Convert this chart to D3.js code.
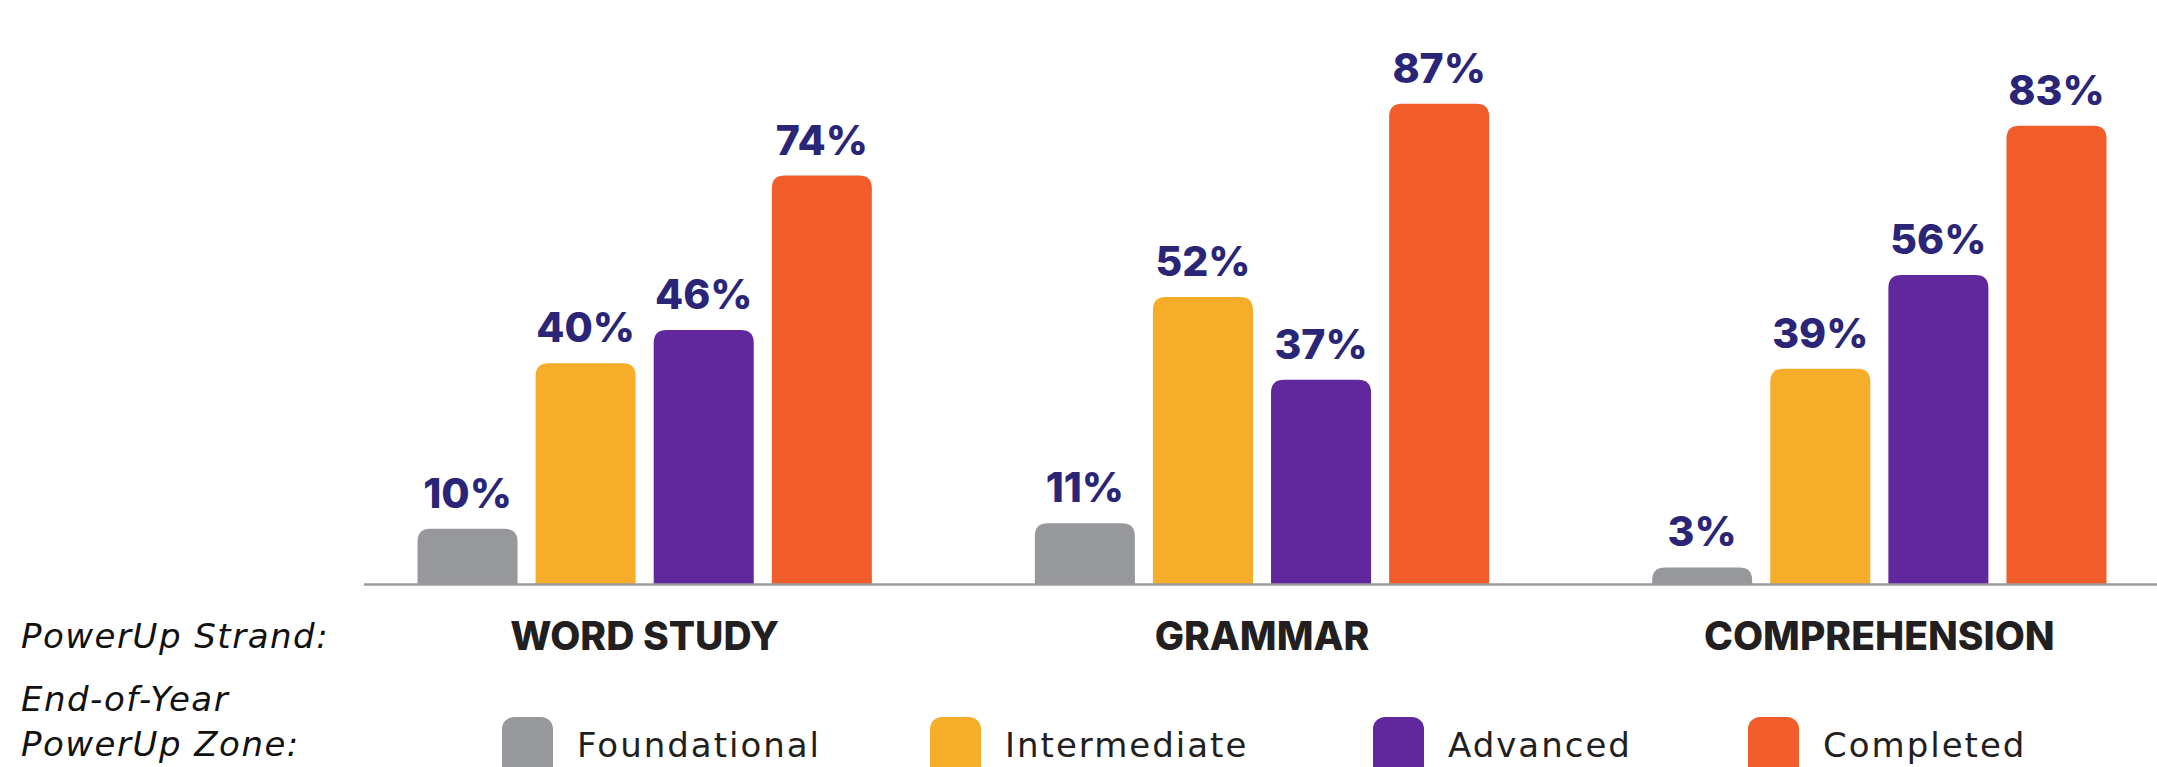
<!DOCTYPE html>
<html>
<head>
<meta charset="utf-8">
<script src="https://cdn.jsdelivr.net/npm/d3@7"></script>
<style>
  html, body { margin: 0; padding: 0; background: #ffffff; }
  svg { display: block; }
</style>
</head>
<body>
<svg id="chart" width="2157" height="767"></svg>
<script>
// ---- data ----
const categories = ["WORD STUDY", "GRAMMAR", "COMPREHENSION"];
const zones = ["Foundational", "Intermediate", "Advanced", "Completed"];
const foundational = [10, 11, 3];
const intermediate = [40, 52, 39];
const advanced = [46, 37, 56];
const completed = [74, 87, 83];
const zoneColors = ["#97989b", "#f6ad2a", "#61279c", "#f15c2b"];
const rowLabels = ["PowerUp Strand:", "End-of-Year", "PowerUp Zone:"];

const seriesValues = [foundational, intermediate, advanced, completed];

const width = 2157, height = 767;
const svg = d3.select("#chart");

// ---- scales ----
const x0 = d3.scaleBand()
  .domain(categories)
  .range([417.5, 2106.5])
  .paddingInner(0.264)
  .paddingOuter(0);

const x1 = d3.scaleBand()
  .domain(zones)
  .range([0, x0.bandwidth()])
  .paddingInner(0.153)
  .paddingOuter(0);

const y = d3.scaleLinear().domain([0, 100]).range([584, 32]);

const color = d3.scaleOrdinal().domain(zones).range(zoneColors);

// rounded-top bar path
function barPath(x, yTop, w, yBase, r) {
  const h = yBase - yTop;
  const rr = Math.min(r, h, w / 2);
  return `M${x},${yBase}` +
    `L${x},${yTop + rr}` +
    `Q${x},${yTop} ${x + rr},${yTop}` +
    `L${x + w - rr},${yTop}` +
    `Q${x + w},${yTop} ${x + w},${yTop + rr}` +
    `L${x + w},${yBase}Z`;
}

// ---- bars ----
const data = [];
categories.forEach((c, ci) => {
  zones.forEach((z, zi) => {
    data.push({ cat: c, zone: z, value: seriesValues[zi][ci] });
  });
});

const groups = svg.append("g").attr("class", "bars");

groups.selectAll("path.bar")
  .data(data)
  .join("path")
  .attr("class", "bar")
  .attr("fill", d => color(d.zone))
  .attr("d", d => barPath(x0(d.cat) + x1(d.zone), y(d.value), x1.bandwidth(), y(0), 13));

// axis baseline
const xAxis = d3.axisBottom(x0).tickSize(0).tickFormat("");
const axisG = svg.append("g")
  .attr("transform", `translate(0,${y(0) + 0.5})`)
  .call(xAxis);
axisG.select(".domain")
  .attr("d", `M364,0H${width}`)
  .attr("stroke", "#9b9b9b")
  .attr("stroke-width", 2.5);

// value labels
svg.append("g").selectAll("text.val")
  .data(data)
  .join("text")
  .attr("class", "val")
  .attr("x", d => x0(d.cat) + x1(d.zone) + x1.bandwidth() / 2)
  .attr("y", d => y(d.value) - 21)
  .attr("text-anchor", "middle")
  .attr("font-family", "Inter, 'Open Sans', sans-serif")
  .attr("font-weight", 800)
  .attr("font-size", 41)
  .attr("fill", "#2a2577")
  .text(d => d.value + "%");

// category labels
svg.append("g").selectAll("text.cat")
  .data(categories)
  .join("text")
  .attr("class", "cat")
  .attr("x", d => x0(d) + x0.bandwidth() / 2)
  .attr("y", 650)
  .attr("text-anchor", "middle")
  .attr("font-family", "Inter, 'Open Sans', sans-serif")
  .attr("font-weight", 800)
  .attr("font-size", 39)
  .attr("fill", "#231f20")
  .text(d => d);

// row labels (italic)
const rowY = [648, 711, 756];
svg.append("g").selectAll("text.row")
  .data(rowLabels)
  .join("text")
  .attr("class", "row")
  .attr("x", 21)
  .attr("y", (d, i) => rowY[i])
  .attr("font-family", "'DejaVu Sans', 'Noto Sans', sans-serif")
  .attr("font-style", "italic")
  .attr("font-size", 34)
  .attr("letter-spacing", 1.5)
  .attr("fill", "#111111")
  .text(d => d);

// legend
const legendX = [502, 930, 1373, 1748];
const legend = svg.append("g").attr("class", "legend");
const items = legend.selectAll("g.item")
  .data(zones)
  .join("g")
  .attr("class", "item")
  .attr("transform", (d, i) => `translate(${legendX[i]},717)`);
items.append("rect")
  .attr("width", 51)
  .attr("height", 62)
  .attr("rx", 12)
  .attr("fill", d => color(d));
items.append("text")
  .attr("x", 75)
  .attr("y", 40)
  .attr("font-family", "'DejaVu Sans', 'Noto Sans', sans-serif")
  .attr("font-size", 34)
  .attr("letter-spacing", 2)
  .attr("fill", "#231f20")
  .text(d => d);
</script>
</body>
</html>
